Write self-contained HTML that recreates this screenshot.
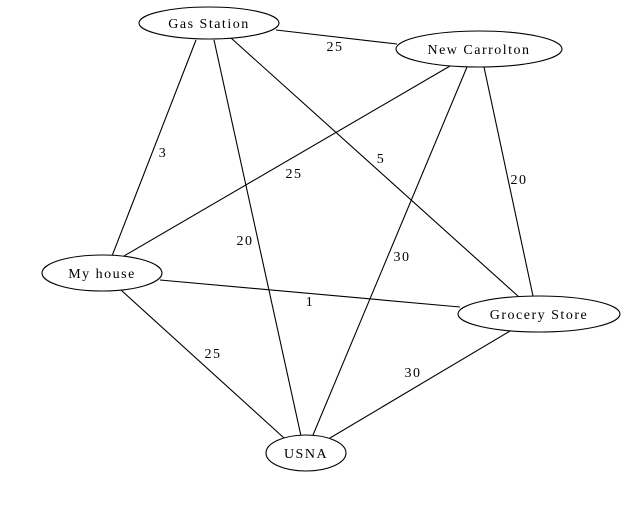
<!DOCTYPE html>
<html><head><style>html,body{margin:0;padding:0;background:#fff}</style></head>
<body>
<svg width="626" height="515" viewBox="0 0 626 515" xmlns="http://www.w3.org/2000/svg" font-family="Liberation Serif, serif" font-size="14" letter-spacing="1.5">
<g stroke="#000" stroke-width="1.1" fill="none">
<line x1="276" y1="30" x2="397" y2="44"/>
<line x1="196" y1="40" x2="112" y2="256"/>
<line x1="214" y1="40" x2="301" y2="436"/>
<line x1="231" y1="38" x2="519" y2="297"/>
<line x1="450" y1="66" x2="124" y2="256"/>
<line x1="467" y1="67" x2="313" y2="435"/>
<line x1="484" y1="67" x2="533" y2="296"/>
<line x1="160" y1="280" x2="460" y2="307"/>
<line x1="121" y1="290" x2="284" y2="438"/>
<line x1="510" y1="331" x2="330" y2="438"/>
<ellipse cx="209" cy="23" rx="70" ry="16" fill="#fff"/>
<ellipse cx="479" cy="49" rx="83" ry="18" fill="#fff"/>
<ellipse cx="102" cy="273" rx="60" ry="18" fill="#fff"/>
<ellipse cx="539" cy="314" rx="81" ry="18" fill="#fff"/>
<ellipse cx="306" cy="453" rx="40" ry="18" fill="#fff"/>
</g>
<g text-anchor="middle" fill="#000">
<text x="209" y="28">Gas Station</text>
<text x="479" y="54">New Carrolton</text>
<text x="102" y="278">My house</text>
<text x="539" y="319">Grocery Store</text>
<text x="306" y="458">USNA</text>
<text x="335" y="51">25</text>
<text x="163" y="157">3</text>
<text x="245" y="245">20</text>
<text x="381" y="163">5</text>
<text x="294" y="178">25</text>
<text x="402" y="261">30</text>
<text x="519" y="184">20</text>
<text x="310" y="306">1</text>
<text x="213" y="358">25</text>
<text x="413" y="377">30</text>
</g>
</svg>
</body></html>
